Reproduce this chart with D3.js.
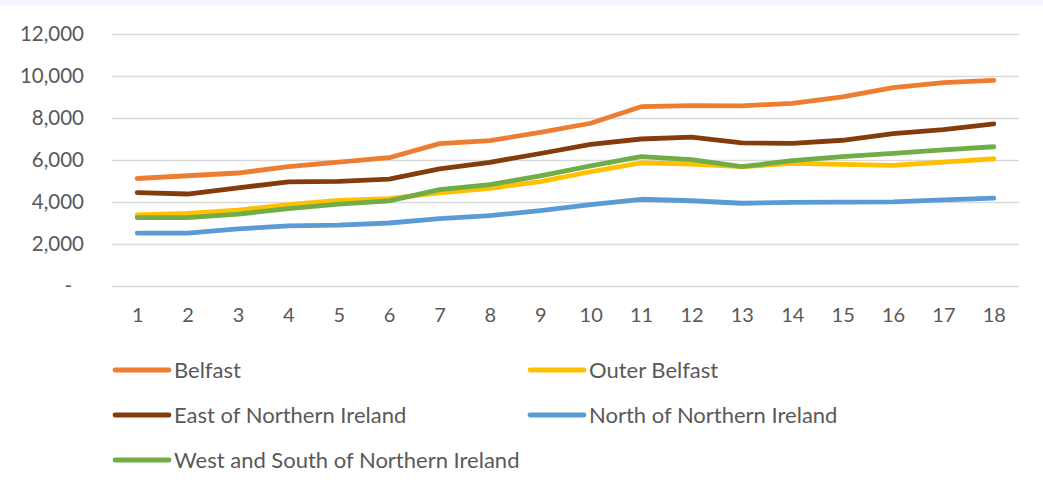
<!DOCTYPE html>
<html>
<head>
<meta charset="utf-8">
<script src="https://cdn.jsdelivr.net/npm/d3@7"></script>
<style>
  body { margin: 0; background: #fff; }
  text { font-family: Lato, "Open Sans", sans-serif; fill: #595959; }
</style>
</head>
<body>
<script>
// periods 1..18
let periods = d3.range(1, 19);
let seriesNames = ["Belfast", "Outer Belfast", "East of Northern Ireland", "North of Northern Ireland", "West and South of Northern Ireland"];
let seriesColors = ["#ED7D31", "#FFC000", "#843C0C", "#5B9BD5", "#70AD47"];

let belfast = [5120, 5250, 5380, 5680, 5900, 6110, 6780, 6920, 7320, 7750, 8540, 8590, 8580, 8700, 9010, 9450, 9680, 9790];
let outerBelfast = [3380, 3460, 3610, 3880, 4080, 4160, 4440, 4650, 4970, 5440, 5860, 5810, 5680, 5840, 5790, 5740, 5900, 6060];
let eastNI = [4450, 4380, 4670, 4960, 4980, 5090, 5580, 5890, 6310, 6740, 7000, 7090, 6820, 6790, 6940, 7260, 7450, 7720];
let northNI = [2520, 2520, 2720, 2860, 2900, 3000, 3210, 3350, 3590, 3870, 4130, 4060, 3940, 3980, 3990, 4010, 4100, 4180];
let westSouthNI = [3260, 3260, 3420, 3680, 3900, 4050, 4590, 4830, 5240, 5720, 6160, 6020, 5680, 5970, 6160, 6320, 6480, 6630];

let yTicks = [0, 2000, 4000, 6000, 8000, 10000, 12000];

let allSeries = [belfast, outerBelfast, eastNI, northNI, westSouthNI];

let W = 1043, H = 491;

let svg = d3.select("body")
    .append("svg")
        .attr("width", W)
        .attr("height", H);

// pale strip along the top
svg.append("rect")
    .attr("x", 0).attr("y", 0)
    .attr("width", W).attr("height", 5)
    .style("fill", "#F3F7FB");

let x = d3.scalePoint()
    .domain(periods)
    .range([112, 1019])
    .padding(0.5);

let y = d3.scaleLinear()
    .domain([0, 12000])
    .range([286, 34]);

// gridlines + y labels
let yAxis = svg.append("g")
    .attr("transform", "translate(112,0)")
    .call(d3.axisLeft(y)
        .tickValues(yTicks)
        .tickSize(-907)
        .tickPadding(28)
        .tickFormat(d => d === 0 ? "-" : d3.format(",")(d)));
yAxis.select(".domain").remove();
yAxis.selectAll(".tick line")
    .style("stroke", "#D9D9D9")
    .style("stroke-width", 1.3);
yAxis.selectAll(".tick text")
    .style("font-size", "20.5px")
    .attr("dx", d => d === 0 ? -12 : 0);

// x labels
let xAxis = svg.append("g")
    .attr("transform", "translate(0,286)")
    .call(d3.axisBottom(x).tickSize(0).tickPadding(22));
xAxis.select(".domain").remove();
xAxis.selectAll(".tick text")
    .style("font-size", "20px");

let line = d3.line()
    .x((d, i) => x(periods[i]))
    .y(d => y(d));

svg.selectAll(".series")
    .data(allSeries)
    .enter()
    .append("path")
        .attr("class", "series")
        .attr("d", d => line(d))
        .style("fill", "none")
        .style("stroke", (d, i) => seriesColors[i])
        .style("stroke-width", 4.8)
        .style("stroke-linecap", "round")
        .style("stroke-linejoin", "round");

// legend, two columns
let legendPos = [[115, 370], [530, 370], [115, 415], [530, 415], [115, 460]];
let legend = svg.selectAll(".legend")
    .data(seriesNames)
    .enter()
    .append("g")
        .attr("class", "legend")
        .attr("transform", (d, i) => "translate(" + legendPos[i][0] + "," + legendPos[i][1] + ")");
legend.append("line")
    .attr("x1", 0).attr("x2", 54)
    .attr("y1", 0).attr("y2", 0)
    .style("stroke", (d, i) => seriesColors[i])
    .style("stroke-width", 4.8)
    .style("stroke-linecap", "round");
legend.append("text")
    .attr("x", 59)
    .attr("dy", "0.35em")
    .style("font-size", "22px")
    .text(d => d);
</script>
</body>
</html>
